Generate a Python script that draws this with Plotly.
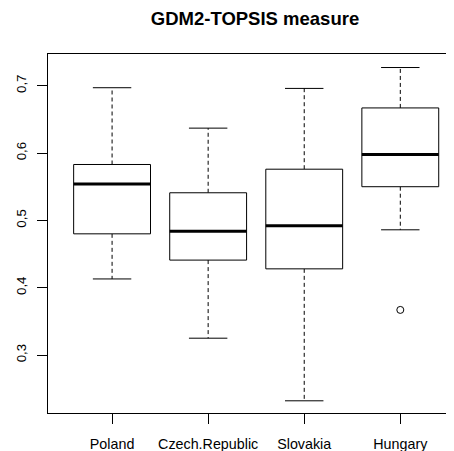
import plotly.graph_objects as go

categories = ["Poland", "Czech.Republic", "Slovakia", "Hungary"]
lower_whisker = [0.413, 0.325, 0.232, 0.486]
q1 = [0.480, 0.441, 0.428, 0.550]
median = [0.554, 0.484, 0.492, 0.598]
q3 = [0.583, 0.541, 0.576, 0.667]
upper_whisker = [0.697, 0.637, 0.696, 0.727]
outlier_cat = ["Hungary"]
outlier_val = [0.367]

y_tickvals = [0.3, 0.4, 0.5, 0.6, 0.7]

BOX_HALF = 0.4
CAP_HALF = 0.2
FONT = "Liberation Sans, Arial, sans-serif"
OFF = 8  # page body margin

fig = go.Figure()
pos = {c: i + 1 for i, c in enumerate(categories)}

for i, c in enumerate(categories):
    x0 = pos[c]
    fig.add_trace(go.Scatter(
        x=[x0, x0, None, x0, x0],
        y=[q3[i], upper_whisker[i], None, q1[i], lower_whisker[i]],
        mode="lines", line=dict(color="black", width=1, dash="4px,3px"),
        hoverinfo="skip", showlegend=False))
    fig.add_trace(go.Scatter(
        x=[x0 - CAP_HALF, x0 + CAP_HALF, None, x0 - CAP_HALF, x0 + CAP_HALF],
        y=[upper_whisker[i], upper_whisker[i], None, lower_whisker[i], lower_whisker[i]],
        mode="lines", line=dict(color="black", width=1),
        hoverinfo="skip", showlegend=False))
    fig.add_trace(go.Scatter(
        x=[x0 - BOX_HALF, x0 + BOX_HALF, x0 + BOX_HALF, x0 - BOX_HALF, x0 - BOX_HALF],
        y=[q1[i], q1[i], q3[i], q3[i], q1[i]],
        mode="lines", line=dict(color="black", width=1),
        fill="toself", fillcolor="white",
        hoverinfo="skip", showlegend=False))
    fig.add_trace(go.Scatter(
        x=[x0 - BOX_HALF, x0 + BOX_HALF],
        y=[median[i], median[i]],
        mode="lines", line=dict(color="black", width=3),
        hoverinfo="skip", showlegend=False))

fig.add_trace(go.Scatter(
    x=[pos[c] for c in outlier_cat], y=outlier_val,
    mode="markers",
    marker=dict(symbol="circle-open", size=7, color="black", line=dict(width=1)),
    hoverinfo="skip", showlegend=False))

W, H = 454 - OFF, 451 - OFF
fig.update_layout(
    width=W, height=H,
    margin=dict(l=48 - OFF, r=0, t=54 - OFF, b=38),
    plot_bgcolor="white", paper_bgcolor="white",
    separators=", ",
    font=dict(family=FONT, size=13, color="black"),
    title=dict(text="<b>GDM2-TOPSIS measure</b>", x=(255 - OFF) / W, xref="container",
               xanchor="center", y=1 - (18.5 - OFF) / H, yref="container", yanchor="middle",
               font=dict(family=FONT, size=18.5, color="black")),
    xaxis=dict(range=[0.333, 4.559], tickvals=[1, 2, 3, 4], ticktext=categories,
               showgrid=False, zeroline=False, showline=True, mirror=True,
               linecolor="black", linewidth=1, ticks="outside", ticklen=10,
               tickcolor="black", tickfont=dict(size=14.3), ticklabelstandoff=8),
    yaxis=dict(range=[0.2139, 0.7471], tickvals=y_tickvals, tickformat=".1f",
               showgrid=False, zeroline=False, showline=True, mirror=False,
               linecolor="black", linewidth=1, ticks="outside", ticklen=10,
               tickcolor="black", tickangle=-90, tickfont=dict(size=13.3),
               ticklabelstandoff=6),
)

fig.write_html("out.html")
